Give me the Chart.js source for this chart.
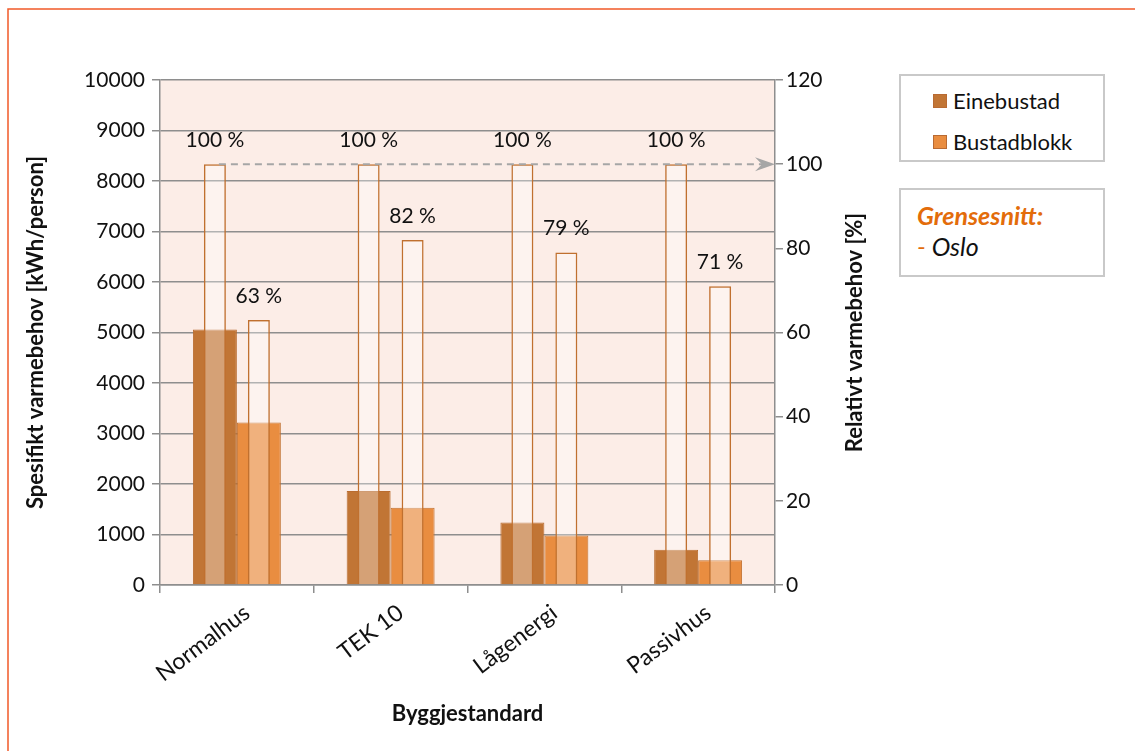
<!DOCTYPE html>
<html>
<head>
<meta charset="utf-8">
<script src="https://cdn.jsdelivr.net/npm/chart.js@4"></script>
<style>
  html, body { margin: 0; padding: 0; background: #fff; }
  #wrap { position: relative; width: 1135px; height: 751px; }
  canvas { position: absolute; left: 0; top: 0; }
  .box { position: absolute; border: 2px solid #c9c9c9; background: #fff; box-sizing: border-box;
         font-family: Lato, "Open Sans", sans-serif; font-size: 22px; color: #111; }
  .item { position: absolute; left: 32px; display: flex; align-items: center; }
  .sw { width: 14px; height: 14px; margin-right: 6px; box-sizing: border-box; border: 1px solid #b86a33; }
</style>
</head>
<body>
<div id="wrap">
  <canvas id="chart" width="1135" height="751"></canvas>
  <div class="box" style="left:899px; top:74px; width:206px; height:88px;">
    <div class="item" style="top:11px;"><span class="sw" style="background:#c17535"></span>Einebustad</div>
    <div class="item" style="top:52px;"><span class="sw" style="background:#e98d40"></span>Bustadblokk</div>
  </div>
  <div class="box" style="left:899px; top:188px; width:206px; height:89px; font-style:italic; font-size:25px;">
    <div style="position:absolute; left:16px; top:10px; color:#e36c0a; font-weight:bold;">Grensesnitt:</div>
    <div style="position:absolute; left:16px; top:41px;"><span style="color:#e36c0a">-</span> Oslo</div>
  </div>
</div>
<script>
const categories = ['Normalhus', 'TEK 10', 'Lågenergi', 'Passivhus'];
const einebustad = [5060, 1860, 1240, 700];
const bustadblokk = [3220, 1530, 980, 490];
const relEinebustad = [100, 100, 100, 100];
const relBustadblokk = [63, 82, 79, 71];

const FONT = 'Lato, "Open Sans", sans-serif';
const gridGrey = '#8e8e8e';

// bakgrunn i plottområdet + oransje ramme
const background = {
  id: 'background',
  beforeDraw(chart) {
    const { ctx, chartArea: { left, top, right, bottom } } = chart;
    ctx.save();
    ctx.fillStyle = '#fcede7';
    ctx.fillRect(left, top, right - left, bottom - top);
    ctx.strokeStyle = '#f15a29';
    ctx.lineWidth = 1.5;
    ctx.beginPath();
    ctx.moveTo(8, 760);
    ctx.lineTo(8, 9);
    ctx.lineTo(1140, 9);
    ctx.stroke();
    ctx.restore();
  }
};

// prosent-etiketter, stipla pil og tittel på høgre akse
const labels = {
  id: 'labels',
  afterDatasetsDraw(chart) {
    const { ctx } = chart;
    ctx.save();
    ctx.font = '21px ' + FONT;
    ctx.fillStyle = '#111';
    ctx.textAlign = 'center';
    ctx.textBaseline = 'middle';
    [0, 1].forEach(i => {
      const meta = chart.getDatasetMeta(i);
      meta.data.forEach((el, j) => {
        const v = chart.data.datasets[i].data[j];
        ctx.fillText(v + ' %', el.x, el.y - 24);
      });
    });

    const first = chart.getDatasetMeta(0).data[0];
    const y = chart.scales.y1.getPixelForValue(relEinebustad[0]);
    const xEnd = chart.chartArea.right;
    ctx.strokeStyle = '#a6a6a6';
    ctx.lineWidth = 2;
    ctx.setLineDash([7, 5]);
    ctx.beginPath();
    ctx.moveTo(first.x + 4, y);
    ctx.lineTo(xEnd - 6, y);
    ctx.stroke();
    ctx.setLineDash([]);
    ctx.fillStyle = '#a6a6a6';
    ctx.beginPath();
    ctx.moveTo(xEnd, y);
    ctx.lineTo(xEnd - 20, y - 7);
    ctx.lineTo(xEnd - 13, y);
    ctx.lineTo(xEnd - 20, y + 7);
    ctx.closePath();
    ctx.fill();

    // høgre aksetittel, lesen nedanfrå og opp som i Excel
    const ca = chart.chartArea;
    ctx.translate(chart.scales.y1.right - 20, (ca.top + ca.bottom) / 2);
    ctx.rotate(-Math.PI / 2);
    ctx.font = 'bold 22px ' + FONT;
    ctx.fillStyle = '#111';
    ctx.fillText('Relativt varmebehov [%]', 0, 0);
    ctx.restore();
  }
};

const tickFont = { family: FONT, size: 21 };
const titleFont = { family: FONT, size: 22, weight: 'bold' };

new Chart(document.getElementById('chart'), {
  type: 'bar',
  data: {
    labels: categories,
    datasets: [
      {
        label: 'Relativt Einebustad',
        data: relEinebustad,
        yAxisID: 'y1',
        stack: 'a',
        order: 1,
        backgroundColor: 'rgba(255,255,255,0.32)',
        borderColor: '#c0702f',
        borderWidth: 1.5,
        barPercentage: 0.5,
        categoryPercentage: 0.572
      },
      {
        label: 'Relativt Bustadblokk',
        data: relBustadblokk,
        yAxisID: 'y1',
        stack: 'b',
        order: 1,
        backgroundColor: 'rgba(255,255,255,0.32)',
        borderColor: '#c0702f',
        borderWidth: 1.5,
        barPercentage: 0.5,
        categoryPercentage: 0.572
      },
      {
        label: 'Einebustad',
        data: einebustad,
        yAxisID: 'y',
        stack: 'a',
        order: 2,
        backgroundColor: '#c17535',
        borderColor: '#b96c30',
        borderWidth: 1,
        barPercentage: 1,
        categoryPercentage: 0.572
      },
      {
        label: 'Bustadblokk',
        data: bustadblokk,
        yAxisID: 'y',
        stack: 'b',
        order: 2,
        backgroundColor: '#e98d40',
        borderColor: '#c0702f',
        borderWidth: 1,
        barPercentage: 1,
        categoryPercentage: 0.572
      }
    ]
  },
  options: {
    responsive: false,
    animation: false,
    layout: { padding: { left: 0, top: 80, right: 260, bottom: 0 } },
    plugins: {
      legend: { display: false },
      tooltip: { enabled: false }
    },
    scales: {
      x: {
        grid: { display: true, drawOnChartArea: false, color: gridGrey, lineWidth: 1.5, tickLength: 8, offset: true },
        border: { color: gridGrey, width: 1.5 },
        ticks: { color: '#111', font: { family: FONT, size: 23 }, minRotation: 37, maxRotation: 37, padding: 6, labelOffset: 10 },
        title: { display: true, text: 'Byggjestandard', color: '#111', font: titleFont, padding: { top: 0, bottom: 24 } },
        afterFit(scale) { scale.height = 166; }
      },
      y: {
        position: 'left',
        stacked: false,
        min: 0,
        max: 10000,
        grid: { color: gridGrey, lineWidth: 1.5, tickLength: 8 },
        border: { color: gridGrey, width: 1.5 },
        ticks: { stepSize: 1000, color: '#111', font: tickFont, padding: 7, callback: v => String(v) },
        title: { display: true, text: 'Spesifikt varmebehov [kWh/person]', color: '#111', font: titleFont, padding: { top: 23, bottom: 0 } },
        afterFit(scale) { scale.width = 160; }
      },
      y1: {
        position: 'right',
        stacked: false,
        min: 0,
        max: 120,
        grid: { drawOnChartArea: false, color: gridGrey, lineWidth: 1.5, tickLength: 8 },
        border: { color: gridGrey, width: 1.5 },
        ticks: { stepSize: 20, color: '#111', font: tickFont, padding: 3, callback: v => String(v) },
        title: { display: false },
        afterFit(scale) { scale.width = 100; }
      }
    }
  },
  plugins: [background, labels]
});
</script>
</body>
</html>
